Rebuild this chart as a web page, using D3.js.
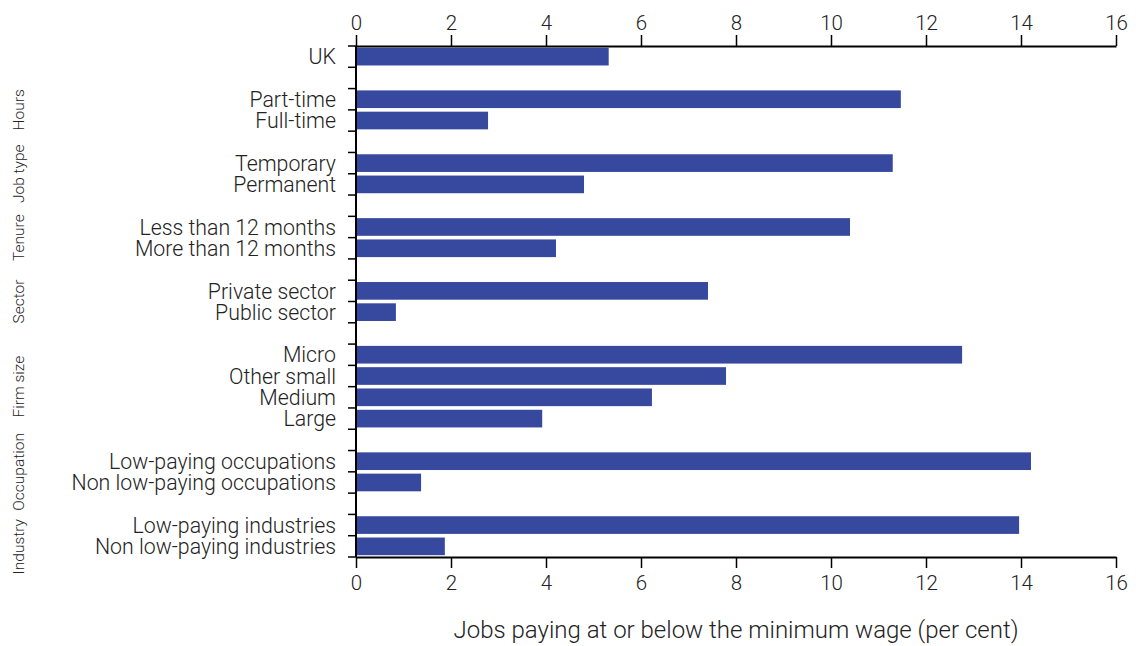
<!DOCTYPE html>
<html>
  <head>
    <style>
    body { margin: 0; background: #fff; }
    text { font-family: Roboto, "Liberation Sans", sans-serif; font-weight: 300; fill: #222; }
    .bar { fill: #37499e; }
    </style>
  </head>
  <body>

    <svg width="1136" height="646"></svg>

    <script src="https://cdn.jsdelivr.net/npm/d3@7/dist/d3.min.js"></script>
    <script>

      // rows top to bottom; null = spacer row between groups
      const rows = [
        'UK', null,
        'Part-time', 'Full-time', null,
        'Temporary', 'Permanent', null,
        'Less than 12 months', 'More than 12 months', null,
        'Private sector', 'Public sector', null,
        'Micro', 'Other small', 'Medium', 'Large', null,
        'Low-paying occupations', 'Non low-paying occupations', null,
        'Low-paying industries', 'Non low-paying industries'
      ]
      const values = [
        5.32, null,
        11.47, 2.78, null,
        11.3, 4.8, null,
        10.4, 4.21, null,
        7.41, 0.84, null,
        12.76, 7.79, 6.23, 3.92, null,
        14.21, 1.37, null,
        13.96, 1.87
      ]
      const groups = ['Hours', 'Job type', 'Tenure', 'Sector', 'Firm size', 'Occupation', 'Industry']
      const groupRows = [
        ['Part-time', 'Full-time'],
        ['Temporary', 'Permanent'],
        ['Less than 12 months', 'More than 12 months'],
        ['Private sector', 'Public sector'],
        ['Micro', 'Other small', 'Medium', 'Large'],
        ['Low-paying occupations', 'Non low-paying occupations'],
        ['Low-paying industries', 'Non low-paying industries']
      ]
      const xTicks = [0, 2, 4, 6, 8, 10, 12, 14, 16]
      const xTitle = 'Jobs paying at or below the minimum wage (per cent)'

      const svg = d3.select('svg')
      const margin = {top: 46, right: 20, bottom: 89, left: 356}
      const width = 1116 - margin.left
      const height = 646 - margin.top - margin.bottom

      const keys = rows.map((r, i) => r === null ? 'gap' + i : r)
      const data = keys.map((k, i) => ({ key: k, label: rows[i], value: values[i] }))

      const x = d3.scaleLinear().domain([0, 16]).range([0, width])
      const y = d3.scaleBand().domain(keys).range([0, height]).paddingInner(0.17).paddingOuter(0.085)
      const step = height / keys.length

      const chart = svg.append('g')
          .attr('transform', 'translate(' + margin.left + ',' + margin.top + ')')

      chart.selectAll('.bar')
        .data(data.filter(d => d.value !== null))
        .enter().append('rect')
          .attr('class', 'bar')
          .attr('x', 0)
          .attr('y', d => y(d.key))
          .attr('width', d => x(d.value))
          .attr('height', y.bandwidth())

      // category labels
      chart.selectAll('.cat')
        .data(data.filter(d => d.label !== null))
        .enter().append('text')
          .attr('x', -20)
          .attr('y', d => y(d.key) + y.bandwidth() / 2)
          .attr('dy', '0.36em')
          .attr('text-anchor', 'end')
          .style('font-size', '21.3px')
          .text(d => d.label)

      // left axis: line and a tick at every row boundary
      chart.append('line')
          .attr('x1', 0).attr('x2', 0).attr('y1', 0).attr('y2', height)
          .attr('stroke', '#000').attr('stroke-width', 2)
      chart.selectAll('.ytick')
        .data(d3.range(keys.length + 1))
        .enter().append('line')
          .attr('x1', -8).attr('x2', 0)
          .attr('y1', i => i * step).attr('y2', i => i * step)
          .attr('stroke', '#000').attr('stroke-width', 1.5)

      const axTop = chart.append('g')
          .call(d3.axisTop(x).tickValues(xTicks).tickSize(11).tickPadding(5).tickSizeOuter(0))
      const axBottom = chart.append('g')
          .attr('transform', 'translate(0,' + height + ')')
          .call(d3.axisBottom(x).tickValues(xTicks).tickSize(11).tickPadding(7).tickSizeOuter(0))
      ;[axTop, axBottom].forEach(g => {
        g.attr('font-family', null).attr('font-size', null)
        g.select('.domain').attr('stroke', '#000').attr('stroke-width', 2)
        g.selectAll('.tick line').attr('stroke', '#000').attr('stroke-width', 1.5)
        g.selectAll('.tick text')
          .style('font-size', '20.5px').attr('fill', '#222')
      })

      // vertical group labels
      groups.forEach((g, i) => {
        const rs = groupRows[i]
        let cy = (y(rs[0]) + y(rs[rs.length - 1]) + y.bandwidth()) / 2
        if (g === 'Industry') cy += 11
        chart.append('text')
            .attr('transform', 'translate(' + (18 - margin.left) + ',' + cy + ') rotate(-90)')
            .attr('dy', '0.36em')
            .attr('text-anchor', 'middle')
            .style('font-size', '15.5px')
            .text(g)
      })

      svg.append('text')
          .attr('x', 736)
          .attr('y', 638)
          .attr('text-anchor', 'middle')
          .style('font-size', '24px')
          .text(xTitle)

    </script>
  </body>
</html>
